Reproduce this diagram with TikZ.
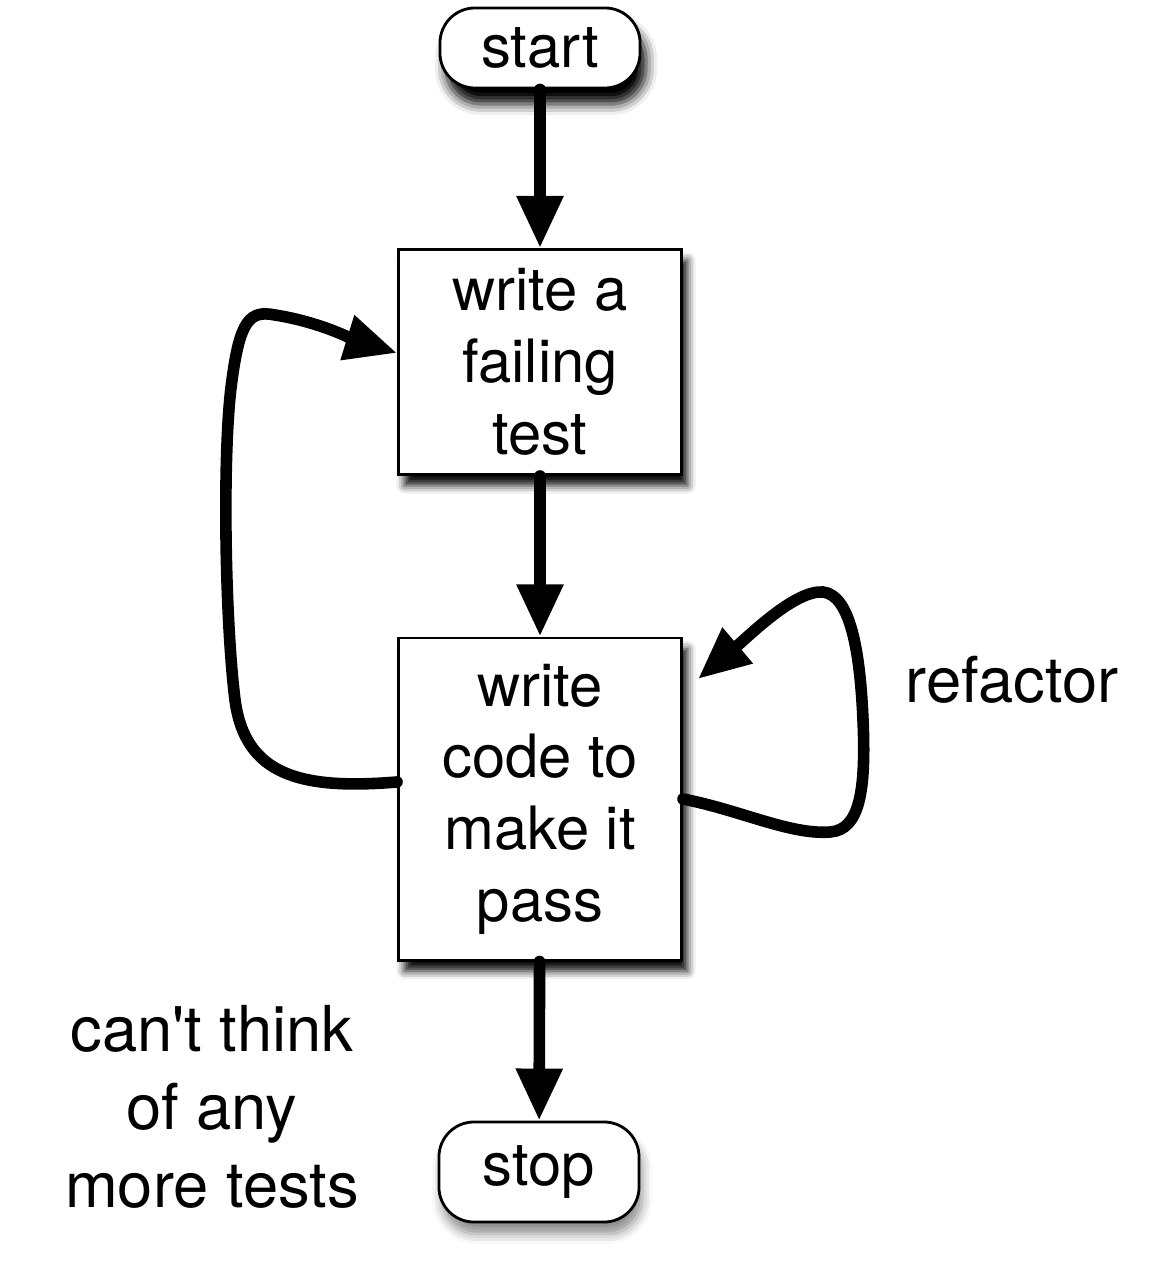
\documentclass[tikz,border=0pt]{standalone}
\usepackage{fontspec}
\setmainfont{TeX Gyre Heros}
\usetikzlibrary{arrows.meta,shadows.blur}

\begin{document}
\begin{tikzpicture}[x=0.01cm,y=-0.01cm,
  term node/.style={rectangle,rounded corners=3.5mm,draw,fill=white,line width=0.8pt,
    minimum width=2cm,minimum height=0.8cm,font=\fontsize{17}{20.4}\selectfont},
  box node/.style={rectangle,draw,fill=white,line width=0.8pt,align=center,
    minimum width=2.83cm,font=\fontsize{17}{20.4}\selectfont,
    blur shadow={shadow xshift=0.6mm,shadow yshift=-1.1mm,shadow blur radius=0.8mm,shadow opacity=95}},
  label node/.style={align=center,font=\fontsize{18}{22.2}\selectfont},
  flow/.style={line width=3.3pt,line cap=round,-{Triangle[length=5.2mm,width=4.4mm]}}]
  \useasboundingbox (0,0) rectangle (1148,1264);

  \node[term node,blur shadow={shadow xshift=0.6mm,shadow yshift=-1.6mm,shadow blur radius=1.1mm,shadow opacity=100}] (start) at (540,48) {start};
  \node[box node,minimum height=2.25cm] (test) at (540,362) {write a\\failing\\test};
  \node[box node,minimum height=3.22cm] (code) at (540,799) {write\\code to\\make it\\pass};
  \node[term node,minimum height=1cm,blur shadow={shadow xshift=0.3mm,shadow yshift=-1.2mm,shadow blur radius=1mm,shadow opacity=45}] (stop) at (539,1172) {stop};
  \node[label node] (refactor) at (1012,680) {refactor};
  \node[label node] (nomore) at (212,1107) {can\textquotesingle t think\\of any\\more tests};

  \draw[flow] (start) -- (test);
  \draw[flow] (test) -- (code);
  \draw[flow] (code) -- (stop);

  % back to a new test
  \draw[flow] ([yshift=1.7mm]code.west) .. controls (300,790) and (245,775) .. (235,700)
    .. controls (225,620) and (222,450) .. (232,380)
    .. controls (240,320) and (250,310) .. (275,315)
    .. controls (320,322) and (355,340) .. ([yshift=0.9mm]test.west);

  % refactor loop
  \coordinate (rftip) at (698,679);
  \draw[flow] (code.east) .. controls (740,810) and (790,835) .. (830,832)
    .. controls (860,830) and (866,790) .. (863,720)
    .. controls (860,650) and (850,595) .. (823,592)
    .. controls (795,590) and (750,635) .. (rftip);
\end{tikzpicture}
\end{document}
